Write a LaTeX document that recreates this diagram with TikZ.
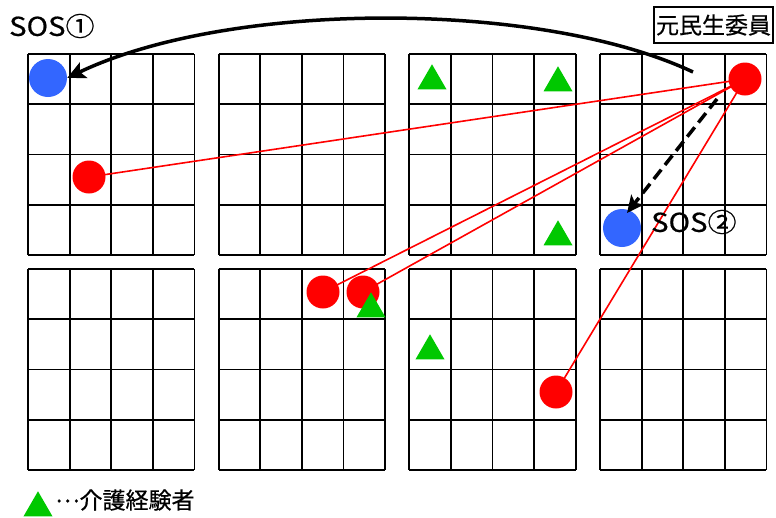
\documentclass[tikz,border=0pt]{standalone}
\usepackage{fontspec}
\setmainfont{Noto Sans CJK JP}[FakeBold=0.6]
\usetikzlibrary{shapes.geometric,arrows.meta}
\tikzset{
  gridline/.style={line width=1.8pt, black},
  redc/.style={circle, fill=red, draw=none, minimum size=33pt, inner sep=0pt},
  bluec/.style={circle, fill={rgb,255:red,51;green,102;blue,255}, draw=none, minimum size=38pt, inner sep=0pt},
  tri/.style={regular polygon, regular polygon sides=3, fill={rgb,255:red,0;green,200;blue,0}, draw=none, minimum size=33.5pt, inner sep=0pt},
  redline/.style={red, line width=1.6pt},
  lbl/.style={font=\fontsize{26pt}{28pt}\selectfont\addfontfeatures{FakeStretch=1.12}, inner sep=0pt},
  jp/.style={font=\fontsize{23pt}{25pt}\selectfont},
}
\begin{document}
\begin{tikzpicture}[x=1pt,y=-1pt]
\useasboundingbox (0,0) rectangle (776,517);
% grids
\foreach \bx in {28,218.7,409.3,600}{
  \foreach \by in {54,269}{
    \foreach \i in {0,1,2,3,4}{
      \draw[gridline] (\bx+\i*41.6,\by) -- (\bx+\i*41.6,\by+201);
      \draw[gridline] (\bx,\by+\i*50.25) -- (\bx+166.4,\by+\i*50.25);
    }
  }
}
% positions
\coordinate (pr0) at (745,79);
\coordinate (pr1) at (89,177);
\coordinate (pr2) at (323,292);
\coordinate (pr3) at (363,292);
\coordinate (pr4) at (556,392);
% red lines
\draw[redline] (pr0) -- (pr1);
\draw[redline] (pr0) -- (pr2);
\draw[redline] (pr0) -- (pr3);
\draw[redline] (pr0) -- (pr4);
% circles
\node[redc] (r0) at (pr0) {};
\node[redc] (r1) at (pr1) {};
\node[redc] (r2) at (pr2) {};
\node[redc] (r3) at (pr3) {};
\node[redc] (r4) at (pr4) {};
\node[bluec] (b1) at (48,78) {};
\node[bluec] (b2) at (622,228) {};
% triangles
\node[tri] (t1) at (432,81) {};
\node[tri] (t2) at (558,83) {};
\node[tri] (t3) at (558,237) {};
\node[tri] (t4) at (371,309) {};
\node[tri] (t5) at (430,351) {};
\node[tri] (t6) at (38,508) {};
% labels
\node[lbl, anchor=west] (sos1) at (9,26) {SOS①};
\node[lbl, anchor=west] (sos2) at (651,222) {SOS②};
\node[draw, line width=2pt, jp, inner xsep=2pt, inner ysep=0pt, minimum height=36pt] (mw) at (713.5,25) {元民生委員};
\node[jp, anchor=west, inner sep=0pt] (leg) at (55,500) {\raisebox{0.28em}{…}介護経験者};
% arrows
\coordinate (cs) at (693,72);
\draw[line width=3.5pt, -{Stealth[length=18pt,width=17pt,inset=4pt]}] (cs) .. controls (540,0) and (230,0) .. (b1.east);
\coordinate (ds) at (717,99);
\draw[line width=3.5pt, dash pattern=on 12pt off 6pt, -{Stealth[length=17pt,width=16pt,inset=4pt]}] (ds) -- (627,213);
\end{tikzpicture}
\end{document}
